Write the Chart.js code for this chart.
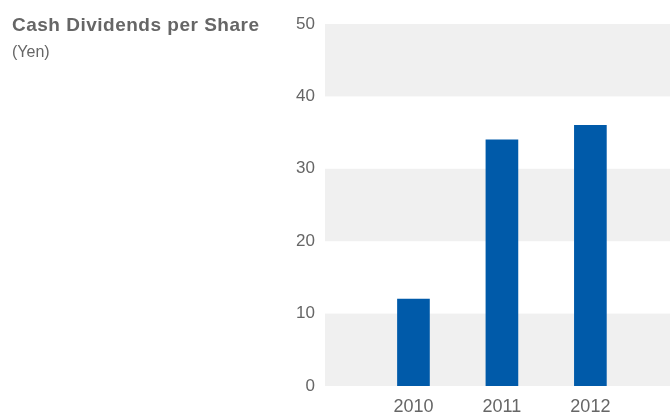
<!DOCTYPE html>
<html>
<head>
<meta charset="utf-8">
<script src="https://cdn.jsdelivr.net/npm/chart.js@4"></script>
<style>
  html, body { margin: 0; padding: 0; background: #fff; }
  #wrap { position: relative; width: 670px; height: 412px; overflow: hidden; }
  #myChart { position: absolute; left: 0; top: 0; }
  .title { position: absolute; left: 12px; top: 14px; font: bold 19px "Liberation Sans", Arial, sans-serif; letter-spacing: 0.5px; color: #666; }
  .unit { position: absolute; left: 12px; top: 43px; font: 16px "Liberation Sans", Arial, sans-serif; color: #666; }
</style>
</head>
<body>
<div id="wrap">
  <canvas id="myChart" width="670" height="412"></canvas>
  <div class="title">Cash Dividends per Share</div>
  <div class="unit">(Yen)</div>
</div>
<script>
var years = ["2010", "2011", "2012"];
var dividends = [12, 34, 36];
var yTicks = [0, 10, 20, 30, 40, 50];

var ctx = document.getElementById('myChart').getContext("2d");

// light gray bands behind every other 10-yen step
var bands = {
    id: 'bands',
    beforeDatasetsDraw: function (chart) {
        var y = chart.scales.y, area = chart.chartArea, c = chart.ctx;
        c.save();
        c.fillStyle = '#f0f0f0';
        for (var i = 0; i < yTicks.length - 1; i += 2) {
            var top = y.getPixelForValue(yTicks[i + 1]);
            var bottom = y.getPixelForValue(yTicks[i]);
            c.fillRect(area.left, top, area.right - area.left, bottom - top);
        }
        c.restore();
    }
};

var myChart = new Chart(ctx, {
    type: "bar",
    data: {
        datasets: [{
            label: 'Cash Dividends per Share',
            data: dividends.map(function (v, i) { return { x: i + 1, y: v }; }),
            backgroundColor: '#005aa9',
            barThickness: 32
        }]
    },
    options: {
        responsive: false,
        animation: false,
        layout: { padding: { left: 280, top: 24, right: 0, bottom: 0 } },
        plugins: { legend: { display: false }, tooltip: { enabled: false } },
        scales: {
            x: {
                type: 'linear',
                min: 0,
                max: 3.9,
                offset: false,
                grid: { display: false, drawTicks: false },
                border: { display: false },
                afterBuildTicks: function (axis) {
                    axis.ticks = years.map(function (y, i) { return { value: i + 1 }; });
                },
                afterFit: function (axis) { axis.height = 26; },
                ticks: {
                    padding: 10,
                    color: '#666',
                    font: { family: '"Liberation Sans", Arial, sans-serif', size: 18 },
                    callback: function (v) { return years[v - 1]; }
                }
            },
            y: {
                min: 0,
                max: 50,
                grid: { display: false, drawTicks: false },
                border: { display: false },
                afterFit: function (axis) { axis.width = 45; },
                ticks: {
                    stepSize: 10,
                    padding: 10,
                    color: '#666',
                    font: { family: '"Liberation Sans", Arial, sans-serif', size: 17 }
                }
            }
        }
    },
    plugins: [bands]
});
</script>
</body>
</html>
